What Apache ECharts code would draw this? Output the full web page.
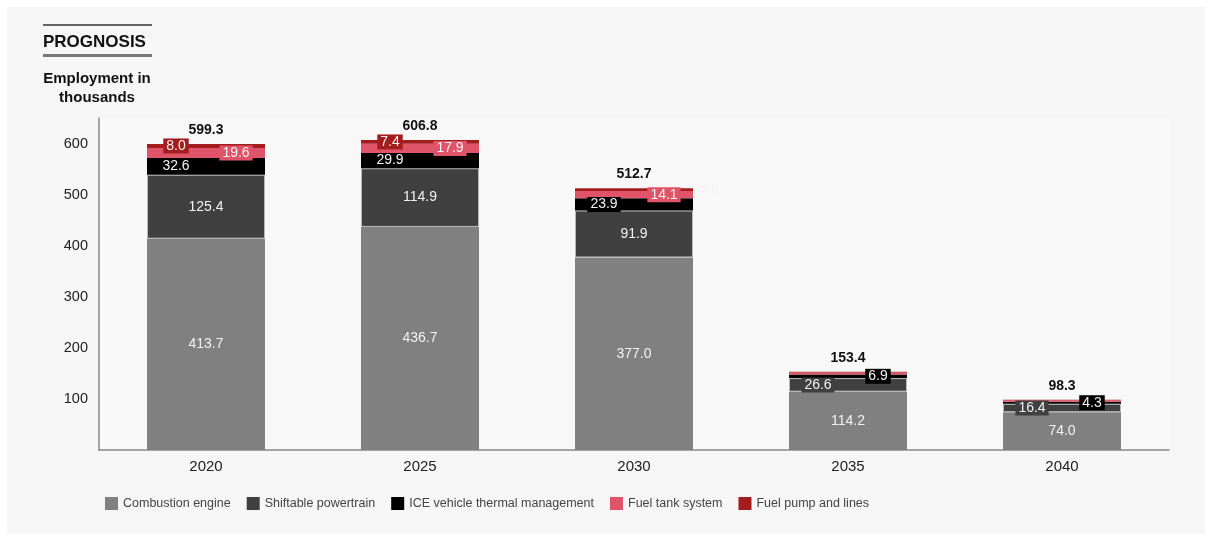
<!DOCTYPE html>
<html>
<head>
<meta charset="utf-8">
<script src="https://cdn.jsdelivr.net/npm/echarts@6/dist/echarts.min.js"></script>
<style>
html,body{margin:0;padding:0;background:#ffffff;}
#c{width:1212px;height:537px;}
</style>
</head>
<body>
<div id="c"></div>
<script>
const categories = ['2020', '2025', '2030', '2035', '2040'];
const combustion = [413.7, 436.7, 377.0, 114.2, 74.0];
const shiftable = [125.4, 114.9, 91.9, 26.6, 16.4];
const iceThermal = [32.6, 29.9, 23.9, 6.9, 4.3];
const fuelTank = [19.6, 17.9, 14.1, 3.9, 2.5];
const fuelPump = [8.0, 7.4, 5.8, 1.8, 1.1];
const totals = [599.3, 606.8, 512.7, 153.4, 98.3];
const seriesNames = ['Combustion engine', 'Shiftable powertrain', 'ICE vehicle thermal management', 'Fuel tank system', 'Fuel pump and lines'];
const colors = ['#808080', '#404040', '#000000', '#e05469', '#a31d1f'];

const FONT = '"Liberation Sans", Arial, sans-serif';
const labelBase = {fontFamily: FONT, fontSize: 14, color: '#f2f2f2'};

function items(values, labelFn) {
  return values.map((v, i) => {
    const l = labelFn(i);
    return l ? {value: v, label: l} : {value: v, label: {show: false}};
  });
}

const boxed = (color, dx) => Object.assign({}, labelBase, {
  show: true, position: 'inside', offset: [dx, 0],
  backgroundColor: color, padding: [1, 3, 0, 3]
});

const seriesData = [
  items(combustion, () => Object.assign({}, labelBase, {show: true, position: 'inside'})),
  items(shiftable, i => i < 3 ? Object.assign({}, labelBase, {show: true, position: 'inside'}) : boxed(colors[1], -30)),
  items(iceThermal, i => boxed(colors[2], i < 3 ? -30 : 30)),
  items(fuelTank, i => i < 3 ? boxed(colors[3], 30) : null),
  items(fuelPump, i => {
    if (i < 2) return boxed(colors[4], -30);
    if (i === 2) return Object.assign({}, labelBase, {show: true, position: 'right', distance: 6, color: '#f4f4f4'});
    return null;
  })
];

const borders = [0, 1, 0, 0, 0];
const series = seriesNames.map((n, k) => ({
  name: n, type: 'bar', stack: 'a', barWidth: 118,
  itemStyle: {color: colors[k], borderColor: '#b8b8b8', borderWidth: borders[k]},
  label: {formatter: p => p.value.toFixed(1)},
  data: seriesData[k]
}));

series.push({
  name: 'total', type: 'bar', stack: 'a', barWidth: 118,
  data: totals.map(() => 0),
  itemStyle: {color: 'transparent'},
  label: {show: true, position: 'top', distance: 7, fontFamily: FONT, fontSize: 14, fontWeight: 'bold', color: '#111',
          formatter: p => totals[p.dataIndex].toFixed(1)},
  silent: true
});

const chart = echarts.init(document.getElementById('c'), null, {renderer: 'canvas'});
chart.setOption({
  backgroundColor: 'transparent',
  animation: false,
  textStyle: {fontFamily: FONT},
  graphic: [
    {type: 'rect', z: -10, shape: {x: 7, y: 7, width: 1198, height: 527}, style: {fill: '#f6f6f6'}},
    {type: 'rect', z: -9, shape: {x: 99, y: 118, width: 1070, height: 332}, style: {fill: '#f8f8f8'}},
    {type: 'line', shape: {x1: 43, y1: 25, x2: 152, y2: 25}, style: {stroke: '#333', lineWidth: 1.5}},
    {type: 'line', shape: {x1: 43, y1: 55.5, x2: 152, y2: 55.5}, style: {stroke: '#777', lineWidth: 3}},
    {type: 'text', x: 43, y: 34, style: {text: 'PROGNOSIS', font: 'bold 17px ' + FONT, fill: '#111'}},
    {type: 'text', x: 97, y: 69, style: {text: 'Employment in\nthousands', font: 'bold 15px ' + FONT, fill: '#111', textAlign: 'center', lineHeight: 19}}
  ],
  legend: {
    data: seriesNames, left: 100, top: 492, itemWidth: 13, itemHeight: 13, itemGap: 16,
    icon: 'rect', itemStyle: {borderWidth: 0},
    textStyle: {fontFamily: FONT, fontSize: 12.5, color: '#444'}
  },
  grid: {left: 99, right: 43, top: 118, bottom: 87},
  xAxis: {
    type: 'category', data: categories,
    axisLine: {lineStyle: {color: '#888', width: 1.5}},
    axisTick: {show: false},
    axisLabel: {fontFamily: FONT, fontSize: 15, color: '#222', margin: 9}
  },
  yAxis: {
    type: 'value', min: 0, max: 650, interval: 100,
    axisLine: {show: true, lineStyle: {color: '#888', width: 1.5}},
    axisTick: {show: false},
    splitLine: {show: false},
    axisLabel: {fontFamily: FONT, fontSize: 14.5, color: '#222', margin: 11, showMaxLabel: false,
                formatter: v => (v === 0 || v > 600) ? '' : String(v)}
  },
  series: series
});
</script>
</body>
</html>
